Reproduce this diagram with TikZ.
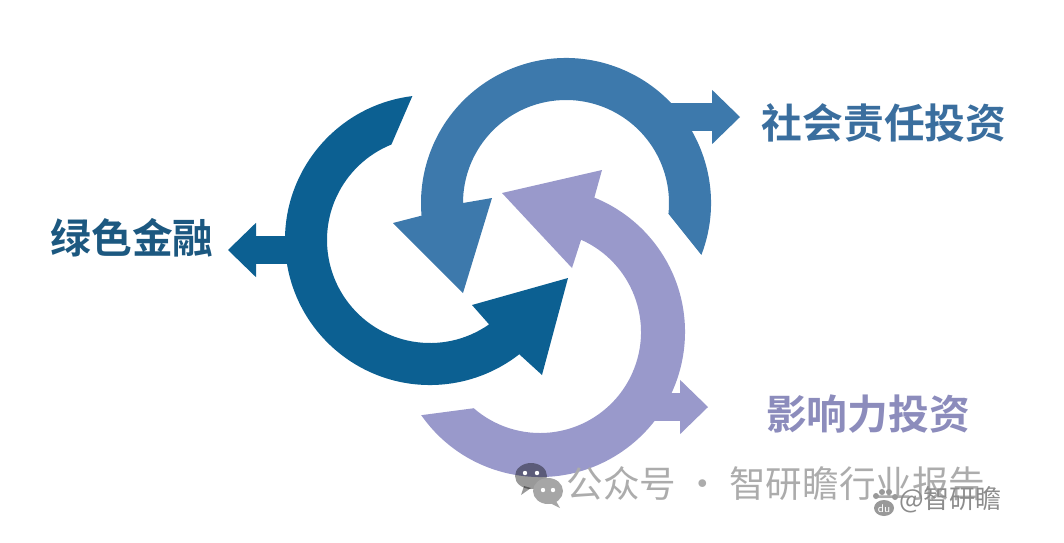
\documentclass[tikz,border=0pt]{standalone}
\usepackage{fontspec}
\newfontfamily\cjk{Noto Sans CJK SC}[BoldFont={Noto Sans CJK SC Bold}]
\usepackage{tikz}
\usetikzlibrary{arrows.meta,calc,positioning}
\definecolor{gfblue}{RGB}{12,96,146}
\definecolor{srblue}{RGB}{61,121,172}
\definecolor{iplav}{RGB}{153,153,203}
\definecolor{gftext}{RGB}{28,88,128}
\definecolor{srtext}{RGB}{58,110,158}
\definecolor{iptext}{RGB}{140,140,188}
\definecolor{wmgray}{RGB}{172,172,172}
\tikzset{%
  pointer/.style = {line width=7mm,
    -{Triangle[length=7mm, width=13.6mm, line width=0pt]}}, % small arrow
  caption/.style = {inner sep=0pt, font=\cjk\bfseries\fontsize{29}{29}\selectfont},
  wmtext/.style  = {inner sep=0pt, text=wmgray, font=\cjk\fontsize{26}{26}\selectfont}
}

\begin{document}
\begin{tikzpicture}[x=0.025cm, y=-0.025cm]

    \useasboundingbox (0,0) rectangle (1064,542);

    % Ring centres
    \coordinate (G) at (430,240);
    \coordinate (S) at (566,203);
    \coordinate (I) at (540,332);

    % Radii
    \def\rOut{145}
    \def\rIn{103}

    % Green finance ring
    \fill[gfblue] ($(G)+(-97:\rOut)$) arc[start angle=-97, end angle=-308, radius=\rOut]
        -- (542,375) -- (568,278) -- (472,305)
        -- ($(G)+(-305:\rIn)$) arc[start angle=-305, end angle=-112, radius=\rIn] -- cycle;

    % Socially responsible investment ring
    \fill[srblue] ($(S)+(21:\rOut)$) arc[start angle=21, end angle=-185, radius=\rOut]
        -- (393,223) -- (463,293) -- (492,198)
        -- ($(S)+(-180:\rIn)$) arc[start angle=-180, end angle=6, radius=\rIn] -- cycle;

    % Impact investment ring
    \fill[iplav] ($(I)+(145:\rOut)$) arc[start angle=145, end angle=-68, radius=\rOut]
        -- (602,170) -- (502,193) -- (572,268)
        -- ($(I)+(-66:101)$) arc[start angle=-66, end angle=131, radius=101] -- cycle;

    % Labels
    \node[caption, text=gftext] (LG) at (132,238) {绿色金融};
    \node[caption, text=srtext] (LS) at (884,123) {社会责任投资};
    \node[caption, text=iptext] (LI) at (868,414) {影响力投资};

    % Small arrows towards the labels
    \coordinate (Gs) at (296,250);
    \coordinate (Gt) at (228,250);
    \coordinate (Ss) at (660,117);
    \coordinate (St) at (740,117);
    \coordinate (Is) at (652,407);
    \coordinate (It) at (708,407);
    \foreach \s/\t/\c in {Gs/Gt/gfblue, Ss/St/srblue, Is/It/iplav}
        \draw[pointer, \c] (\s) -- (\t);

    % Watermark
    \fill[black, opacity=0.4] (531,476) ellipse[x radius=16, y radius=13];
    \fill[black, opacity=0.4] (524,486) -- (521,495) -- (531,488) -- cycle;
    \fill[black!35] (548,491) ellipse[x radius=15, y radius=13];
    \fill[black!35] (556,501) -- (560,508) -- (550,503) -- cycle;
    \foreach \x/\y in {525/473, 537/473, 543/490, 553/490}
        \fill[white] (\x,\y) circle[radius=2.2];
    \node[wmtext] (W) at (776,484) {公众号 · 智研瞻行业报告};
    \fill[black!40] (884,508) ellipse[x radius=10, y radius=8];
    \foreach \x/\y in {876/496, 882/492, 889/492, 895/497}
        \fill[black!40] (\x,\y) circle[radius=3];
    \node[inner sep=0pt, text=white, font=\sffamily\fontsize{8}{8}\selectfont] (D) at (884,509) {du};
    \node[inner sep=0pt, text=black!45, font=\cjk\fontsize{18.5}{18.5}\selectfont,
        anchor=west] (W2) at (899,500) {@智研瞻};

\end{tikzpicture}
\end{document}
